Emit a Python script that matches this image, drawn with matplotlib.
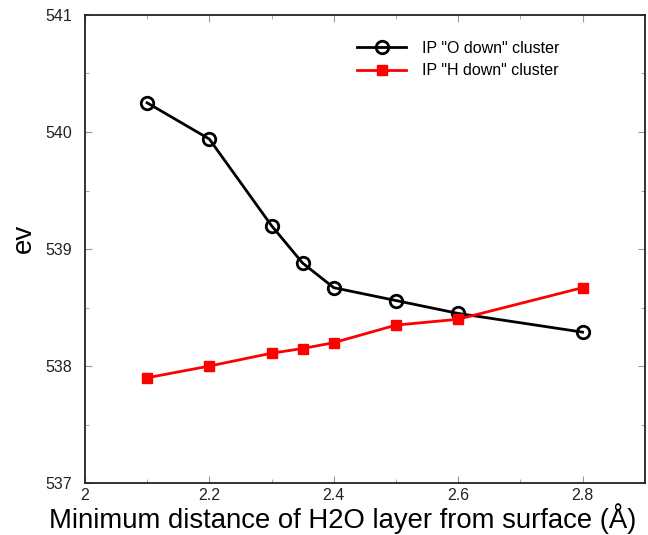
import matplotlib
matplotlib.use("Agg")
import matplotlib.pyplot as plt
from matplotlib.ticker import MultipleLocator

plt.rcParams['font.family'] = ['Liberation Sans', 'DejaVu Sans']

# distance of H2O layer (Angstrom)
distance = [2.1, 2.2, 2.3, 2.35, 2.4, 2.5, 2.6, 2.8]
# ionisation potentials (eV)
ip_o_down = [540.25, 539.94, 539.20, 538.88, 538.67, 538.56, 538.45, 538.29]
ip_h_down = [537.90, 538.00, 538.11, 538.15, 538.20, 538.35, 538.40, 538.67]

fig = plt.figure(figsize=(6.48, 5.35), dpi=100)
ax = fig.add_axes([0.131, 0.097, 0.864, 0.875])

ax.plot(distance, ip_o_down, color='black', linewidth=2, marker='o',
        markersize=9, markerfacecolor='none', markeredgewidth=2,
        label='IP "O down" cluster')
ax.plot(distance, ip_h_down, color='red', linewidth=2, marker='s',
        markersize=7, label='IP "H down" cluster')

ax.set_xlim(2, 2.9)
ax.set_ylim(537, 541)
ax.xaxis.set_minor_locator(MultipleLocator(0.1))
ax.yaxis.set_major_locator(MultipleLocator(1))
ax.yaxis.set_minor_locator(MultipleLocator(0.5))
ax.set_xticks([2, 2.2, 2.4, 2.6, 2.8])
ax.set_xticklabels(['2', '2.2', '2.4', '2.6', '2.8'])
ax.tick_params(which='both', direction='in', top=True, right=True,
               labelsize=11.5, colors='#999999', labelcolor='#222222')
ax.tick_params(axis='y', pad=9)
ax.tick_params(which='major', length=5)
ax.tick_params(which='minor', length=3)
for s in ax.spines.values():
    s.set_linewidth(1.3)
    s.set_color('#222222')

ax.set_xlabel('Minimum distance of H2O layer from surface (Å)', fontsize=19.8)
ax.xaxis.set_label_coords(0.461, -0.042, transform=ax.transAxes)
ax.xaxis.label.set_va('top')
ax.set_ylabel('ev', fontsize=20)
ax.yaxis.set_label_coords(-0.086, 0.523)

ax.legend(loc='upper left', bbox_to_anchor=(0.46, 0.975), frameon=False,
          fontsize=11.5, handlelength=3.1, handletextpad=1.0, labelspacing=0.45)

plt.savefig('out.png', dpi=100)
